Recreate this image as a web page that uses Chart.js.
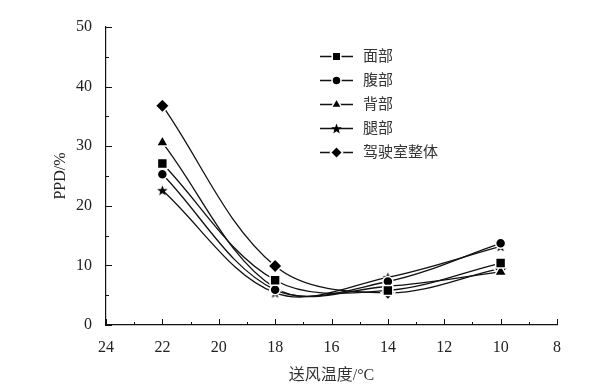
<!DOCTYPE html>
<html>
<head>
<meta charset="utf-8">
<script src="https://cdn.jsdelivr.net/npm/chart.js@4.4.1/dist/chart.umd.min.js"></script>
<style>
  html, body { margin: 0; padding: 0; background: #fff; }
  #wrap { width: 591px; height: 389px; }
</style>
</head>
<body>
<div id="wrap"><canvas id="mychart" width="591" height="389"></canvas></div>
<script>
// data
const temps = [22, 18, 14, 10];
const xTicks = [24, 22, 20, 18, 16, 14, 12, 10, 8];
const yTicks = [0, 10, 20, 30, 40, 50];
const names = ['面部', '腹部', '背部', '腿部', '驾驶室整体'];
const face = [27.1, 7.5, 5.8, 10.4];
const belly = [25.3, 5.9, 7.3, 13.7];
const back = [30.6, 6.2, 6.5, 8.9];
const leg = [22.6, 5.4, 8.0, 13.2];
const cabin = [36.8, 9.9, 5.4, 9.5];

const serif = '"Liberation Serif", "DejaVu Serif", serif';
const cjk = '"Liberation Serif", "Noto Sans CJK SC", serif';

// filled five point star for the 腿部 series
function makeStar(size) {
  const c = document.createElement('canvas');
  c.width = size; c.height = size;
  const g = c.getContext('2d');
  const cx = size / 2, cy = size / 2 + 0.5, R = size / 2 - 1, r = R * 0.42;
  g.beginPath();
  for (let i = 0; i < 10; i++) {
    const a = -Math.PI / 2 + i * Math.PI / 5;
    const rr = i % 2 ? r : R;
    g.lineTo(cx + rr * Math.cos(a), cy + rr * Math.sin(a));
  }
  g.closePath();
  g.fillStyle = '#000';
  g.fill();
  return c;
}
const star = makeStar(13);

function pts(vals) {
  return temps.map((t, i) => ({ x: t, y: vals[i] }));
}

// r: radius on the plot, lr: radius in the legend
const series = [
  { vals: face, style: 'rect', r: 7, lr: 6 },
  { vals: belly, style: 'circle', r: 5, lr: 4.5 },
  { vals: back, style: 'triangle', r: 7, lr: 6 },
  { vals: leg, style: star, r: 6, lr: 5 },
  { vals: cabin, style: 'rectRot', r: 7, lr: 6 }
];

const datasets = series.map((s, i) => ({
  label: names[i],
  data: pts(s.vals),
  borderColor: '#111',
  borderWidth: 1.3,
  backgroundColor: '#000',
  pointStyle: s.style,
  pointRadius: s.r,
  pointBackgroundColor: '#000',
  pointBorderColor: '#fff',
  pointBorderWidth: 1.5,
  tension: 0.35,
  fill: false
}));

// inward ticks + custom legend (line-marker-line)
const decor = {
  id: 'decor',
  afterDraw(chart) {
    const g = chart.ctx;
    const xs = chart.scales.x, ys = chart.scales.y;
    const a = chart.chartArea;
    g.save();
    g.strokeStyle = '#111';
    g.lineWidth = 1;
    for (let v = 8; v <= 24; v++) {
      const px = Math.round(xs.getPixelForValue(v)) + 0.5;
      const len = v % 2 === 0 ? 6 : 3;
      g.beginPath(); g.moveTo(px, a.bottom); g.lineTo(px, a.bottom - len); g.stroke();
    }
    for (let v = 0; v <= 50; v += 5) {
      const py = Math.round(ys.getPixelForValue(v)) + 0.5;
      const len = v % 10 === 0 ? 6 : 3;
      g.beginPath(); g.moveTo(a.left, py); g.lineTo(a.left + len, py); g.stroke();
    }
    // legend
    const lx = 320, ly = 56, step = 24;
    g.font = '15px ' + cjk;
    g.textBaseline = 'middle';
    series.forEach((s, i) => {
      const y = ly + i * step;
      g.strokeStyle = '#111';
      g.lineWidth = 1.3;
      g.beginPath(); g.moveTo(lx, y + 0.5); g.lineTo(lx + 33, y + 0.5); g.stroke();
      const opts = { pointStyle: s.style, radius: s.lr, borderWidth: 1.5, rotation: 0 };
      g.fillStyle = '#000';
      g.strokeStyle = '#fff';
      g.lineWidth = 1.5;
      Chart.helpers.drawPoint(g, opts, lx + 16.5, y + 0.5);
      g.fillStyle = '#333';
      g.fillText(names[i], lx + 43, y + 1);
    });
    g.restore();
  }
};

const ctx = document.getElementById('mychart');

new Chart(ctx, {
  type: 'line',
  data: { datasets },
  plugins: [decor],
  options: {
    responsive: false,
    animation: false,
    layout: { padding: { top: 27, right: 34, left: 47, bottom: 0 } },
    plugins: {
      legend: { display: false },
      tooltip: { enabled: false }
    },
    scales: {
      x: {
        type: 'linear',
        min: 8,
        max: 24,
        reverse: true,
        afterBuildTicks: s => { s.ticks = xTicks.map(v => ({ value: v })); },
        grid: { display: false },
        border: { color: '#111', width: 1.2 },
        ticks: { color: '#222', font: { family: serif, size: 16 }, padding: 5 },
        title: { display: true, text: '送风温度/°C', color: '#333', font: { family: cjk, size: 16 }, padding: { top: 5 } },
        afterFit: s => { s.height = 64; }
      },
      y: {
        min: 0,
        max: 50,
        afterBuildTicks: s => { s.ticks = yTicks.map(v => ({ value: v })); },
        grid: { display: false },
        border: { color: '#111', width: 1.2 },
        ticks: { color: '#222', font: { family: serif, size: 16 }, padding: 6 },
        title: { display: true, text: 'PPD/%', color: '#222', font: { family: serif, size: 16 }, padding: { bottom: 6 } },
        afterFit: s => { s.width = 59; }
      }
    }
  }
});
</script>
</body>
</html>
